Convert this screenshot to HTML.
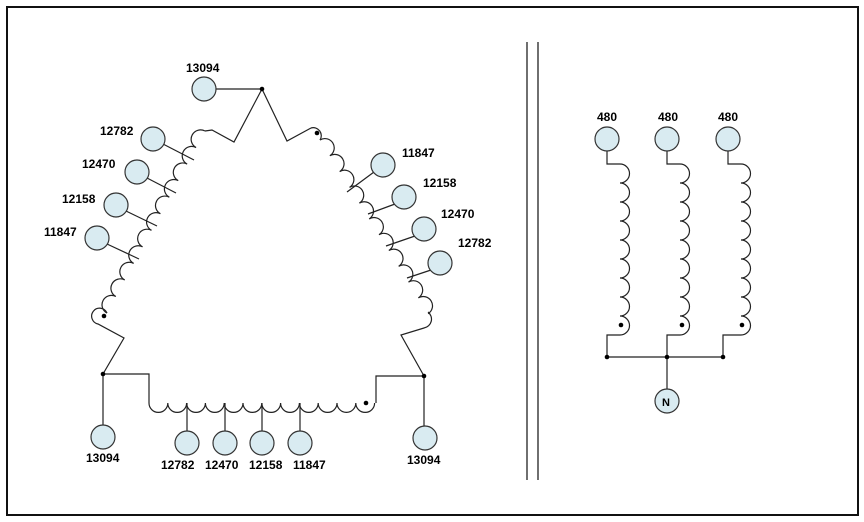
<!DOCTYPE html>
<html><head><meta charset="utf-8"><style>
html,body{margin:0;padding:0;background:#fff;}
svg{display:block;}
text{font-family:"Liberation Sans",sans-serif;font-weight:bold;font-size:12px;fill:#000;}
</style></head><body>
<svg width="864" height="522" viewBox="0 0 864 522" xmlns="http://www.w3.org/2000/svg">
<rect x="7" y="7" width="851" height="508" fill="#fff" stroke="#111" stroke-width="2"/>
<line x1="527" y1="42" x2="527" y2="480" stroke="#222" stroke-width="1.3"/>
<line x1="538" y1="42" x2="538" y2="480" stroke="#222" stroke-width="1.3"/>
<g fill="none" stroke="#222" stroke-width="1.2">
<!-- top -->
<path d="M216 89 L262 89 L234 142 L212 130 L205 131"/>
<path d="M262 89 L287 141 L311 128"/>
<path d="M311 128 A8 8 0 0 1 320 140"/>
<!-- left coil -->
<g transform="translate(205,131) rotate(118.3)">
<path d="M0 0 a9.4 9.4 0 0 0 18.8 0 a9.4 9.4 0 0 0 18.8 0 a9.4 9.4 0 0 0 18.8 0 a9.4 9.4 0 0 0 18.8 0 a9.4 9.4 0 0 0 18.8 0 a9.4 9.4 0 0 0 18.8 0 a9.4 9.4 0 0 0 18.8 0 a9.4 9.4 0 0 0 18.8 0 a9.4 9.4 0 0 0 18.8 0 a9.4 9.4 0 0 0 18.8 0 a9.4 9.4 0 0 0 18.8 0"/>
</g>
<path d="M107 313 A8 8 0 1 0 98 324 L124 338 L103 374 L149 374 L149 403"/>
<!-- right coil -->
<g transform="translate(320,140) rotate(58.1)">
<path d="M0 0 a9.3 9.3 0 0 1 18.6 0 a9.3 9.3 0 0 1 18.6 0 a9.3 9.3 0 0 1 18.6 0 a9.3 9.3 0 0 1 18.6 0 a9.3 9.3 0 0 1 18.6 0 a9.3 9.3 0 0 1 18.6 0 a9.3 9.3 0 0 1 18.6 0 a9.3 9.3 0 0 1 18.6 0 a9.3 9.3 0 0 1 18.6 0 a9.3 9.3 0 0 1 18.6 0 a9.3 9.3 0 0 1 18.6 0"/>
</g>
<path d="M428 312 A9 9 0 0 1 424 328 L401 335 L424 376 L376 376 L376 403"/>
<!-- bottom coil -->
<path d="M149 403 a9.4 9.4 0 0 0 18.8 0 a9.4 9.4 0 0 0 18.8 0 a9.4 9.4 0 0 0 18.8 0 a9.4 9.4 0 0 0 18.8 0 a9.4 9.4 0 0 0 18.8 0 a9.4 9.4 0 0 0 18.8 0 a9.4 9.4 0 0 0 18.8 0 a9.4 9.4 0 0 0 18.8 0 a9.4 9.4 0 0 0 18.8 0 a9.4 9.4 0 0 0 18.8 0 a9.4 9.4 0 0 0 18.8 0 a9.4 9.4 0 0 0 18.8 0"/>
<!-- taps -->
<line x1="103" y1="374" x2="103" y2="425"/>
<line x1="424" y1="376" x2="424" y2="426"/>
<line x1="187" y1="403" x2="187" y2="431"/>
<line x1="225" y1="403" x2="225" y2="431"/>
<line x1="262" y1="403" x2="262" y2="431"/>
<line x1="300" y1="403" x2="300" y2="431"/>
<line x1="163" y1="144" x2="194" y2="160"/>
<line x1="147" y1="178" x2="176" y2="193"/>
<line x1="126" y1="211" x2="157" y2="226"/>
<line x1="107" y1="244" x2="139" y2="259"/>
<line x1="374" y1="172" x2="347" y2="192"/>
<line x1="395" y1="204" x2="368" y2="214"/>
<line x1="415" y1="236" x2="386" y2="246"/>
<line x1="431" y1="270" x2="407" y2="278"/>
<!-- right transformer -->
<path d="M607 151 L607 164 L620 164 a9.5 9.5 0 0 1 0 19 a9.5 9.5 0 0 1 0 19 a9.5 9.5 0 0 1 0 19 a9.5 9.5 0 0 1 0 19 a9.5 9.5 0 0 1 0 19 a9.5 9.5 0 0 1 0 19 a9.5 9.5 0 0 1 0 19 a9.5 9.5 0 0 1 0 19 a9.5 9.5 0 0 1 0 19 L607 335 L607 357"/>
<path d="M667 151 L667 164 L680 164 a9.5 9.5 0 0 1 0 19 a9.5 9.5 0 0 1 0 19 a9.5 9.5 0 0 1 0 19 a9.5 9.5 0 0 1 0 19 a9.5 9.5 0 0 1 0 19 a9.5 9.5 0 0 1 0 19 a9.5 9.5 0 0 1 0 19 a9.5 9.5 0 0 1 0 19 a9.5 9.5 0 0 1 0 19 L667 335 L667 389"/>
<path d="M728 151 L728 164 L741 164 a9.5 9.5 0 0 1 0 19 a9.5 9.5 0 0 1 0 19 a9.5 9.5 0 0 1 0 19 a9.5 9.5 0 0 1 0 19 a9.5 9.5 0 0 1 0 19 a9.5 9.5 0 0 1 0 19 a9.5 9.5 0 0 1 0 19 a9.5 9.5 0 0 1 0 19 a9.5 9.5 0 0 1 0 19 L723 335 L723 357"/>
<line x1="607" y1="357" x2="723" y2="357"/>
</g>
<g fill="#000">
<circle cx="262" cy="89" r="2.3"/><circle cx="317" cy="133" r="2.3"/><circle cx="104" cy="316" r="2.3"/>
<circle cx="103" cy="374" r="2.3"/><circle cx="424" cy="376" r="2.3"/><circle cx="366" cy="403" r="2.3"/>
<circle cx="621" cy="325" r="2.3"/><circle cx="682" cy="325" r="2.3"/><circle cx="742" cy="325" r="2.3"/>
<circle cx="607" cy="357" r="2.3"/><circle cx="667" cy="357" r="2.3"/><circle cx="723" cy="357" r="2.3"/>
</g>
<g fill="#d9ebf1" stroke="#333" stroke-width="1.2">
<circle cx="204" cy="89" r="12"/>
<circle cx="153" cy="139" r="12"/><circle cx="137" cy="172" r="12"/><circle cx="116" cy="205" r="12"/><circle cx="97" cy="238" r="12"/>
<circle cx="383" cy="165" r="12"/><circle cx="404" cy="197" r="12"/><circle cx="424" cy="229" r="12"/><circle cx="440" cy="263" r="12"/>
<circle cx="103" cy="437" r="12"/><circle cx="425" cy="438" r="12"/>
<circle cx="187" cy="443" r="12"/><circle cx="225" cy="443" r="12"/><circle cx="262" cy="443" r="12"/><circle cx="300" cy="443" r="12"/>
<circle cx="607" cy="139" r="12"/><circle cx="667" cy="139" r="12"/><circle cx="728" cy="139" r="12"/>
<circle cx="667" cy="401" r="12"/>
</g>
<text x="186" y="72">13094</text>
<text x="100" y="135">12782</text>
<text x="82" y="168">12470</text>
<text x="62" y="203">12158</text>
<text x="44" y="236">11847</text>
<text x="402" y="157">11847</text>
<text x="423" y="187">12158</text>
<text x="441" y="218">12470</text>
<text x="458" y="247">12782</text>
<text x="86" y="462">13094</text>
<text x="407" y="464">13094</text>
<text x="161" y="469">12782</text>
<text x="205" y="469">12470</text>
<text x="249" y="469">12158</text>
<text x="293" y="469">11847</text>
<text x="597" y="121">480</text>
<text x="658" y="121">480</text>
<text x="718" y="121">480</text>
<text x="662" y="406" style="font-size:11px">N</text>
</svg>
</body></html>
